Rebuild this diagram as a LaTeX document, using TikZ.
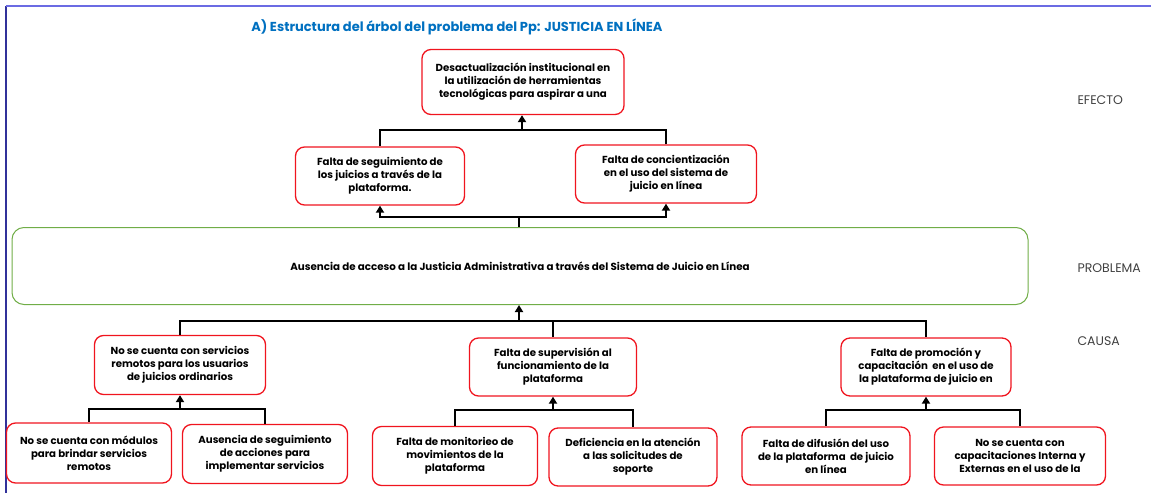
\documentclass[tikz,border=0pt]{standalone}
\usepackage{fontspec}
\setmainfont{Poppins}
\usetikzlibrary{positioning, arrows.meta}
\definecolor{rojo}{RGB}{240,20,30}
\definecolor{verde}{RGB}{112,173,71}
\definecolor{titulo}{RGB}{0,112,192}
\definecolor{marco}{RGB}{70,70,220}

\begin{document}
\begin{tikzpicture}[x=1pt, y=-1pt,
    caja/.style={shape=rectangle, rounded corners=9pt, draw=rojo, line width=1.3pt, align=center, font=\bfseries\fontsize{10.2}{13}\selectfont, inner sep=2pt},
    conn/.style={draw=black, line width=1.8pt},
    flecha/.style={conn, -{Triangle[width=8pt, length=7pt]}},
    nivel/.style={anchor=west, text=black!75, font=\fontsize{12.5}{14}\selectfont}]

    \useasboundingbox (0,0) rectangle (1151,493);
    \draw[marco!70!black, line width=1.5pt] (6,6) -- (6,493);
    \draw[marco!80, line width=1.3pt] (6,6) -- (1151,6);

    \node[text=titulo, font=\bfseries\fontsize{13}{15}\selectfont] (tit) at (457,27) {A) Estructura del árbol del problema del Pp: JUSTICIA EN LÍNEA};

    \node[caja, minimum width=202pt, minimum height=65pt] (E0) at (523,82) {Desactualización institucional en\\la utilización de herramientas\\tecnológicas para aspirar a una};
    \node[caja, minimum width=169pt, minimum height=58pt] (E1) at (380,176) {Falta de seguimiento de\\los juicios a través de la\\plataforma.};
    \node[caja, minimum width=181pt, minimum height=58pt] (E2) at (666,174) {Falta de concientización\\en el uso del sistema de\\juicio en línea};

    \node[caja, draw=verde, line width=1pt, rounded corners=12pt, minimum width=1016pt, minimum height=77pt, font=\bfseries\fontsize{10.3}{12}\selectfont] (P) at (520,266) {Ausencia de acceso a la Justicia Administrativa a través del Sistema de Juicio en Línea};

    \node[caja, minimum width=171pt, minimum height=59pt] (C1) at (180,365) {No se cuenta con servicios\\remotos para los usuarios\\de juicios ordinarios};
    \node[caja, minimum width=167pt, minimum height=58pt] (C2) at (553,367) {Falta de supervisión al\\funcionamiento de la\\plataforma};
    \node[caja, minimum width=170pt, minimum height=58pt] (C3) at (926,367) {Falta de promoción y\\capacitación \ en el uso de\\la plataforma de juicio en};

    \node[caja, minimum width=165pt, minimum height=60pt] (C11) at (89,453) {No se cuenta con módulos\\para brindar servicios\\remotos};
    \node[caja, minimum width=165pt, minimum height=59pt] (C12) at (265,454) {Ausencia de seguimiento\\de acciones para\\implementar servicios};
    \node[caja, minimum width=165pt, minimum height=59pt] (C21) at (455,456) {Falta de monitorieo de\\movimientos de la\\plataforma};
    \node[caja, minimum width=168pt, minimum height=58pt] (C22) at (633,457) {Deficiencia en la atención\\a las solicitudes de\\soporte};
    \node[caja, minimum width=168pt, minimum height=58pt] (C31) at (826,456) {Falta de difusión del uso\\de la plataforma \ de juicio\\en línea};
    \node[caja, minimum width=171pt, minimum height=58pt] (C32) at (1020,456) {No se cuenta con\\capacitaciones Interna y\\Externas en el uso de la};

    \node[nivel] (efecto) at (1074,100) {EFECTO};
    \node[nivel] (problema) at (1074,268) {PROBLEMA};
    \node[nivel] (causa) at (1074,341) {CAUSA};

    \coordinate (jE) at (522,130);
    \coordinate (jP) at (519,217);
    \coordinate (jC) at (519,321);
    \coordinate (j1) at (180,409);
    \coordinate (j2) at (553,410);
    \coordinate (j3) at (926,410);

    \draw[conn] (E1.north) |- (jE);
    \draw[conn] (E2.north) |- (jE);
    \draw[flecha] (jE) -- (E0.south -| jE);

    \draw[conn] (P.north -| jP) -- (jP);
    \draw[flecha] (jP) -| (E1.south);
    \draw[flecha] (jP) -| (E2.south);

    \draw[flecha] (jC) -- (P.south -| jC);
    \draw[conn] (jC) -| (C1.north);
    \draw[conn] (jC) -| (C2.north);
    \draw[conn] (jC) -| (C3.north);

    \draw[flecha] (j1) -- (C1.south);
    \draw[conn] (j1) -| (C11.north);
    \draw[conn] (j1) -| (C12.north);

    \draw[flecha] (j2) -- (C2.south);
    \draw[conn] (j2) -| (C21.north);
    \draw[conn] (j2) -| (C22.north);

    \draw[flecha] (j3) -- (C3.south);
    \draw[conn] (j3) -| (C31.north);
    \draw[conn] (j3) -| (C32.north);
\end{tikzpicture}
\end{document}
